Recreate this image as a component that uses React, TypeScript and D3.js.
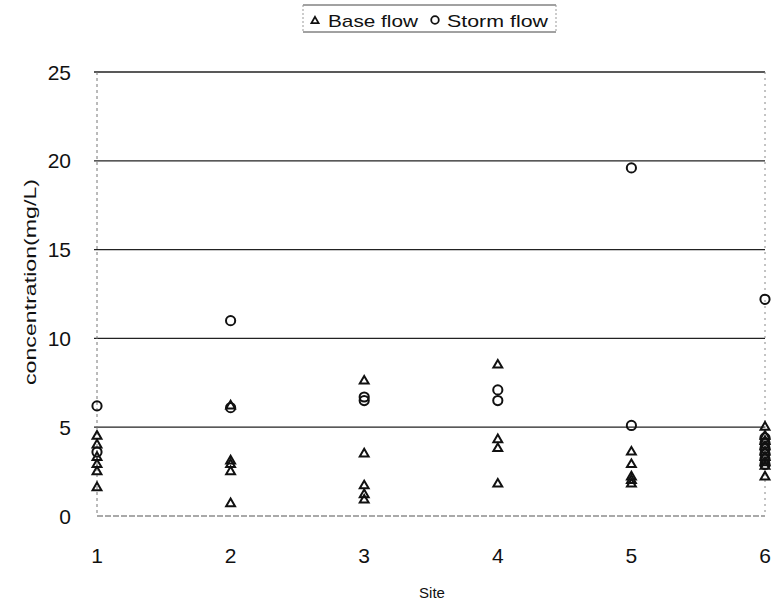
import React from "react";
import * as d3 from "d3";

const sites = [1, 2, 3, 4, 5, 6];
const yTicks = [0, 5, 10, 15, 20, 25];

// Base flow concentrations per site (mg/L)
const baseSite1 = [4.5, 4.0, 3.3, 2.9, 2.5, 1.6];
const baseSite2 = [6.2, 3.1, 2.9, 2.5, 0.7];
const baseSite3 = [7.6, 3.5, 1.7, 1.2, 0.9];
const baseSite4 = [8.5, 4.3, 3.8, 1.8];
const baseSite5 = [3.6, 2.9, 2.2, 2.0, 1.8];
const baseSite6 = [5.0, 4.5, 4.2, 3.9, 3.6, 3.3, 3.0, 2.8, 2.2];

// Storm flow concentrations per site (mg/L)
const stormSite1 = [6.2, 3.6];
const stormSite2 = [11.0, 6.1];
const stormSite3 = [6.7, 6.5];
const stormSite4 = [7.1, 6.5];
const stormSite5 = [19.6, 5.1];
const stormSite6 = [12.2, 4.4, 4.1, 3.8, 3.5, 3.2, 2.9];

const baseBySite = [baseSite1, baseSite2, baseSite3, baseSite4, baseSite5, baseSite6];
const stormBySite = [stormSite1, stormSite2, stormSite3, stormSite4, stormSite5, stormSite6];

const W = 776;
const H = 607;
const left = 97;
const right = 765;
const top = 72;
const bottom = 516;
const font = "'Liberation Sans', Arial, sans-serif";

export default function App() {
  const x = d3.scaleLinear().domain([1, 6]).range([left, right]);
  const y = d3.scaleLinear().domain([0, 25]).range([bottom, top]);
  const tri = d3.symbol().type(d3.symbolTriangle).size(34)();

  const basePts = baseBySite.flatMap((vals, i) => vals.map((v) => ({ s: sites[i], v })));
  const stormPts = stormBySite.flatMap((vals, i) => vals.map((v) => ({ s: sites[i], v })));

  return (
    <svg
      width={W}
      height={H}
      style={{ position: "absolute", left: 0, top: 0, background: "#fff" }}
      fontFamily={font}
    >
      {/* horizontal gridlines */}
      {yTicks.filter((t) => t > 0).map((t) => (
        <line key={t} x1={left - 3} x2={right} y1={y(t)} y2={y(t)} stroke="#222" strokeWidth={1.3} />
      ))}
      {/* baseline */}
      <line x1={left} x2={right} y1={y(0)} y2={y(0)} stroke="#555" strokeWidth={1.2} strokeDasharray="6 2" />
      {/* vertical frame lines */}
      <line x1={left} x2={left} y1={top} y2={bottom} stroke="#777" strokeWidth={1} strokeDasharray="3 3" />
      <line x1={right} x2={right} y1={top} y2={bottom} stroke="#888" strokeWidth={1} strokeDasharray="2 4" />

      {/* y tick labels */}
      {yTicks.map((t) => (
        <text key={t} x={71} y={y(t)} dy="0.36em" textAnchor="end" fontSize={21} fill="#111">
          {t}
        </text>
      ))}
      {/* x tick labels */}
      {sites.map((s) => (
        <text key={s} x={x(s)} y={563} textAnchor="middle" fontSize={21} fill="#111">
          {s}
        </text>
      ))}
      <text x={432} y={598} textAnchor="middle" fontSize={15} fill="#111">
        Site
      </text>
      <text
        transform={`translate(36, 282) rotate(-90)`}
        textAnchor="middle"
        fontSize={16}
        textLength={206}
        lengthAdjust="spacingAndGlyphs"
        fill="#111"
      >
        concentration(mg/L)
      </text>

      {/* storm flow points */}
      {stormPts.map((p, i) => (
        <circle key={"s" + i} cx={x(p.s)} cy={y(p.v)} r={4.6} fill="none" stroke="#111" strokeWidth={2} />
      ))}
      {/* base flow points */}
      {basePts.map((p, i) => (
        <path
          key={"b" + i}
          d={tri as string}
          transform={`translate(${x(p.s)},${y(p.v)})`}
          fill="none"
          stroke="#111"
          strokeWidth={2}
        />
      ))}

      {/* legend */}
      <g>
        <line x1={303} x2={556} y1={5} y2={5} stroke="#444" strokeWidth={1} />
        <line x1={303} x2={556} y1={32} y2={32} stroke="#444" strokeWidth={1} />
        <line x1={303} x2={303} y1={5} y2={32} stroke="#999" strokeWidth={1} strokeDasharray="2 2" />
        <line x1={556} x2={556} y1={5} y2={32} stroke="#999" strokeWidth={1} strokeDasharray="2 2" />
        <path d={d3.symbol().type(d3.symbolTriangle).size(22)() as string} transform="translate(315,21)" fill="none" stroke="#111" strokeWidth={1.8} />
        <text x={328} y={27} fontSize={17} textLength={90} lengthAdjust="spacingAndGlyphs" fill="#111">Base flow</text>
        <circle cx={435} cy={20} r={3.8} fill="none" stroke="#111" strokeWidth={1.8} />
        <text x={447} y={27} fontSize={17} textLength={101} lengthAdjust="spacingAndGlyphs" fill="#111">Storm flow</text>
      </g>
    </svg>
  );
}
